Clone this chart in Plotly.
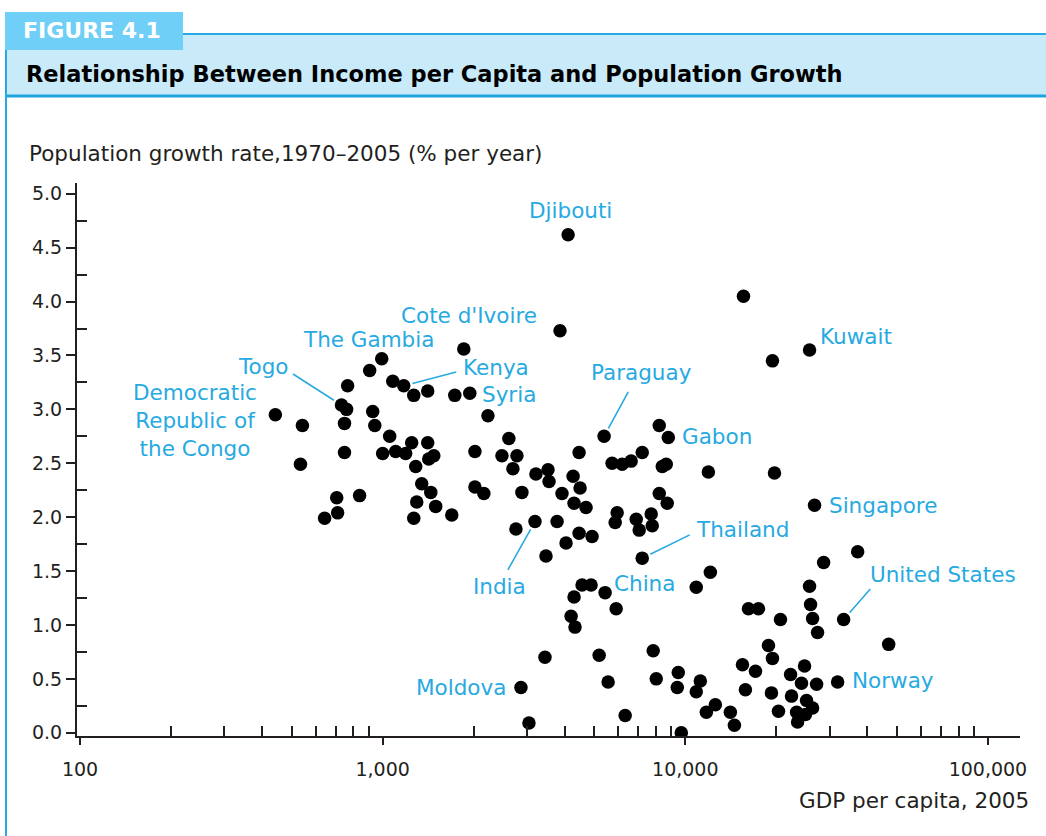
import math
import plotly.graph_objects as go

# ---------------- data ----------------
# Unlabeled countries: GDP per capita 2005 and population growth 1970-2005 (% per year)
gdp_per_capita = [
    543, 535, 643, 710, 705, 839, 760, 766, 748, 748,
    906, 927, 942, 1080, 1267, 1409, 1055, 1247, 1409, 1000,
    1104, 1191, 1286, 1420, 1476, 1346, 1442, 1296, 1497, 1267,
    1692, 1731, 1941, 2018, 2018, 2160, 2612, 2478, 2778, 2694,
    2885, 3210, 3519, 3546, 3914, 4259, 4457, 4491, 4290, 4699,
    3855, 2757, 3770, 4457, 4920, 4036, 3465, 5730, 6187, 6625,
    7206, 8203, 8394, 8650, 8203, 8716, 5955, 5866, 6884, 7715,
    7041, 7776, 11920, 12100, 10870, 4560, 4883, 4290, 5910, 4194,
    4321, 3438, 5193, 7834, 5559, 8017, 9480, 9410, 11210, 10870,
    12570, 11740, 14090, 14530, 3044, 6328, 9700, 15570, 19410, 19710,
    37120, 28650, 25740, 16170, 17450, 25940, 20630, 26340, 27360, 47000,
    18830, 19410, 15450, 17060, 24780, 22280, 24210, 27160, 15800, 19260,
    22440, 25160, 26340, 20320, 23330, 24950, 23500,
]
pop_growth = [
    2.85, 2.49, 1.99, 2.04, 2.18, 2.20, 3.00, 3.22, 2.87, 2.60,
    3.36, 2.98, 2.85, 3.26, 3.13, 3.17, 2.75, 2.69, 2.69, 2.59,
    2.61, 2.59, 2.47, 2.54, 2.57, 2.31, 2.23, 2.14, 2.10, 1.99,
    2.02, 3.13, 3.15, 2.61, 2.28, 2.22, 2.73, 2.57, 2.57, 2.45,
    2.23, 2.40, 2.44, 2.33, 2.22, 2.38, 2.60, 2.27, 2.13, 2.09,
    3.73, 1.89, 1.96, 1.85, 1.82, 1.76, 1.64, 2.50, 2.49, 2.52,
    2.60, 2.85, 2.47, 2.49, 2.22, 2.13, 2.04, 1.95, 1.98, 2.03,
    1.88, 1.92, 2.42, 1.49, 1.35, 1.37, 1.37, 1.26, 1.15, 1.08,
    0.98, 0.70, 0.72, 0.76, 0.47, 0.50, 0.56, 0.42, 0.48, 0.38,
    0.26, 0.19, 0.19, 0.07, 0.09, 0.16, 0.00, 4.05, 3.45, 2.41,
    1.68, 1.58, 1.36, 1.15, 1.15, 1.19, 1.05, 1.06, 0.93, 0.82,
    0.81, 0.69, 0.63, 0.57, 0.62, 0.54, 0.46, 0.45, 0.40, 0.37,
    0.34, 0.30, 0.23, 0.20, 0.19, 0.17, 0.10,
]

# Labeled countries
label_country = [
    "Democratic<br>Republic of<br>the Congo", "Togo", "The Gambia", "Kenya",
    "Cote d'Ivoire", "Syria", "Djibouti", "India", "Moldova", "Paraguay",
    "China", "Thailand", "Gabon", "Kuwait", "Singapore", "United States", "Norway",
]
label_gdp = [442, 731, 993, 1174, 1854, 2228, 4100, 3187, 2864, 5391,
             5433, 7206, 8786, 25740, 26740, 33360, 31870]
label_growth = [2.95, 3.04, 3.47, 3.22, 3.56, 2.94, 4.62, 1.96, 0.42, 2.75,
                1.30, 1.62, 2.74, 3.55, 2.11, 1.05, 0.47]

y_tick_values = [0.0, 0.5, 1.0, 1.5, 2.0, 2.5, 3.0, 3.5, 4.0, 4.5, 5.0]
x_tick_values = [100, 1000, 10000, 100000]
x_tick_labels = ["100", "1,000", "10,000", "100,000"]

# ---------------- styling / placement ----------------
# label placement: (xshift, yshift, xanchor, leader (ax, ay) or None)
label_style = {
    "Democratic<br>Republic of<br>the Congo": (-80, -6, "center", None),
    "Togo": (-78, 39, "center", (-50, -32)),
    "The Gambia": (-13, 19, "center", None),
    "Kenya": (92, 18, "center", (54, -14)),
    "Cote d'Ivoire": (5, 34, "center", None),
    "Syria": (21, 21, "center", None),
    "Djibouti": (2, 24, "center", None),
    "India": (-36, -65, "center", (-28, 50)),
    "Moldova": (-13, 0, "right", None),
    "Paraguay": (37, 64, "center", (25, -46)),
    "China": (7, 9, "left", None),
    "Thailand": (52, 29, "left", (49, -24)),
    "Gabon": (12, 1, "left", None),
    "Kuwait": (8, 14, "left", None),
    "Singapore": (12, 0, "left", None),
    "United States": (24, 45, "left", (28, -32)),
    "Norway": (12, 2, "left", None),
}

W, H = 1046, 836
PL, PR, PT, PB = 77, 1020, 183, 736  # plot area in pixels
BLUE = "#27AAE1"
INK = "#231F20"
FONT = "DejaVu Sans"


def px(xp):
    return (xp - PL) / (PR - PL)


def py(yp):
    return (PB - yp) / (PB - PT)


fig = go.Figure()

fig.add_trace(go.Scatter(
    x=gdp_per_capita + label_gdp,
    y=pop_growth + label_growth,
    mode="markers",
    marker=dict(size=13.5, color="black", line=dict(width=0)),
    hoverinfo="x+y",
    showlegend=False,
))

annotations = []
for name, g, r in zip(label_country, label_gdp, label_growth):
    xs, ys, xa, leader = label_style[name]
    annotations.append(dict(
        x=math.log10(g), y=r, xref="x", yref="y", text=name, showarrow=False,
        xshift=xs, yshift=ys, xanchor=xa, yanchor="middle", align="center",
        font=dict(family=FONT, size=21.5, color=BLUE),
    ))
    if leader is not None:
        annotations.append(dict(
            x=math.log10(g), y=r, xref="x", yref="y", text="", showarrow=True,
            ax=leader[0], ay=leader[1], arrowhead=0, arrowwidth=1.6,
            arrowcolor=BLUE, standoff=9,
        ))

# axis titles
annotations.append(dict(
    x=px(27), y=py(153), xref="paper", yref="paper", xanchor="left", yanchor="middle",
    text="Population growth rate,1970\u20132005 (% per year)", showarrow=False,
    font=dict(family=FONT, size=21.5, color=INK),
))
annotations.append(dict(
    x=px(1031), y=py(800), xref="paper", yref="paper", xanchor="right", yanchor="middle",
    text="GDP per capita, 2005", showarrow=False,
    font=dict(family=FONT, size=21.5, color=INK),
))

# header
annotations.append(dict(
    x=px(92), y=py(31), xref="paper", yref="paper", xanchor="center", yanchor="middle",
    text="<b>FIGURE 4.1</b>", showarrow=False,
    font=dict(family=FONT, size=22, color="white"),
))
annotations.append(dict(
    x=px(24), y=py(74), xref="paper", yref="paper", xanchor="left", yanchor="middle",
    text="<b>Relationship Between Income per Capita and Population Growth</b>", showarrow=False,
    font=dict(family=FONT, size=22.5, color="black"),
))

shapes = [
    dict(type="rect", xref="paper", yref="paper", x0=px(5), x1=px(1046), y0=py(35), y1=py(96),
         fillcolor="#C9EBF9", line=dict(width=0), layer="below"),
    dict(type="line", xref="paper", yref="paper", x0=px(183), x1=px(1046), y0=py(34), y1=py(34),
         line=dict(color=BLUE, width=2)),
    dict(type="rect", xref="paper", yref="paper", x0=px(5), x1=px(183), y0=py(12), y1=py(50),
         fillcolor="#6FCFF6", line=dict(width=0)),
    dict(type="line", xref="paper", yref="paper", x0=px(5), x1=px(1046), y0=py(96), y1=py(96),
         line=dict(color="#1FA3DC", width=3)),
    dict(type="line", xref="paper", yref="paper", x0=px(6), x1=px(6), y0=py(50), y1=py(836),
         line=dict(color=BLUE, width=2)),
]

x_minor = [m * 10 ** e for e in (2, 3, 4) for m in range(2, 10)]
y_minor = [0.25 + 0.5 * i for i in range(10)]

xrange_ = [1.99, 5.106]
yrange_ = [-0.03, 5.1]

fig.update_layout(
    width=W, height=H,
    margin=dict(l=PL, r=W - PR, t=PT, b=H - PB, autoexpand=False),
    paper_bgcolor="white", plot_bgcolor="white",
    showlegend=False,
    annotations=annotations,
    shapes=shapes,
    xaxis=dict(
        type="log", range=xrange_, showgrid=False, zeroline=False,
        showline=True, linecolor=INK, linewidth=2,
        tickmode="array", tickvals=x_tick_values, ticktext=x_tick_labels,
        ticks="outside", ticklen=7, tickwidth=2, tickcolor=INK,
        ticklabelstandoff=8,
        tickfont=dict(family=FONT, size=19, color=INK),
        minor=dict(tickmode="array", tickvals=x_minor, ticks="inside", ticklen=10,
                   tickwidth=1.5, tickcolor=INK, showgrid=False),
    ),
    xaxis2=dict(
        type="log", range=xrange_, overlaying="x", anchor="y", showgrid=False, zeroline=False,
        showline=False, tickmode="array", tickvals=x_tick_values,
        ticks="inside", ticklen=10, tickwidth=2, tickcolor=INK, showticklabels=False,
    ),
    yaxis=dict(
        range=yrange_, showgrid=False, zeroline=False,
        showline=True, linecolor=INK, linewidth=2,
        tickmode="array", tickvals=y_tick_values,
        ticktext=[f"{v:.1f}" for v in y_tick_values],
        ticks="outside", ticklen=9, tickwidth=2, tickcolor=INK,
        tickfont=dict(family=FONT, size=19, color=INK),
        minor=dict(tickmode="array", tickvals=y_minor, ticks="inside", ticklen=10,
                   tickwidth=1.5, tickcolor=INK, showgrid=False),
    ),
    yaxis2=dict(
        range=yrange_, overlaying="y", anchor="x", side="left", showgrid=False, zeroline=False,
        showline=False, tickmode="array", tickvals=y_tick_values,
        ticks="inside", ticklen=9, tickwidth=2, tickcolor=INK, showticklabels=False,
    ),
)

fig.write_html("out.html", config={"displayModeBar": False},
               post_script="document.body.style.margin='0';")
